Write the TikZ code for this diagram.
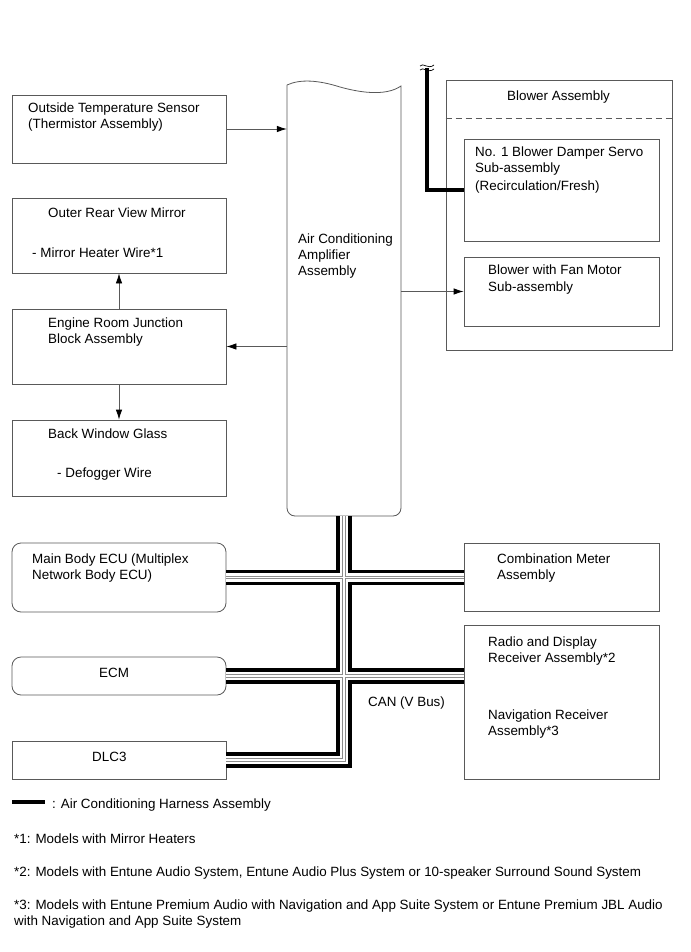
\documentclass[tikz,border=0pt]{standalone}
\usepackage{fontspec}
\setmainfont{Liberation Sans}
\usetikzlibrary{arrows.meta}
\definecolor{ln}{gray}{0.35}
\newcommand\mybus[1]{%
  \draw[#1] (amp.south) -- (bc) -- (dlc.east);
  \draw[#1] (mbe.east) -- (mbe.east -| cmb.west);
  \draw[#1] (ecm.east) -- (ecm.east -| rad.west);
}
\begin{document}
\begin{tikzpicture}[x=1pt,y=-1pt,
  box/.style={draw=ln, line width=0.8pt, inner sep=0pt, minimum width=214pt},
  rbox/.style={box, minimum width=195pt},
  txt/.style={anchor=base west, inner sep=0pt, font=\fontsize{13.4}{16}\selectfont},
  arr/.style={draw=ln, line width=0.8pt, -{Latex[length=10pt,width=6.5pt,color=black]}},
  harness/.style={line width=4pt, black, miter limit=10}
]
\useasboundingbox (0,0) rectangle (690,952);

% left column boxes
\node[box, minimum height=68pt] (ots) at (119,129) {};
\node[box, minimum height=75pt] (mir) at (119,235.5) {};
\node[box, minimum height=75pt] (erjb) at (119,346.5) {};
\node[box, minimum height=76pt] (bwg) at (119,458) {};
\node[box, rounded corners=9pt, minimum height=69pt] (mbe) at (119,577.5) {};
\node[box, rounded corners=9pt, minimum height=38pt] (ecm) at (119,676) {};
\node[box, minimum height=38pt] (dlc) at (119,760) {};

% right column boxes
\node[box, minimum width=226pt, minimum height=270pt] (blw) at (559,215) {};
\draw[ln, line width=0.8pt, dash pattern=on 6pt off 4pt] ([yshift=-39pt]blw.north west) coordinate (dl1) -- ([yshift=-39pt]blw.north east) coordinate (dl2);
\node[rbox, minimum height=102pt] (dmp) at (561.5,190) {};
\node[rbox, minimum height=69pt] (fan) at (561.5,291.5) {};
\node[rbox, minimum height=68pt] (cmb) at (561.5,577) {};
\node[rbox, minimum height=154pt] (rad) at (561.5,702) {};

% air conditioning amplifier
\node[inner sep=0pt, minimum width=114pt, minimum height=431pt] (amp) at (344,300.5) {};
\draw[ln, line width=0.8pt] (287,85) .. controls (300,79) and (318,80) .. (340,87)
  .. controls (358,92) and (385,97) .. (401,86) -- (401,500)
  [rounded corners=8pt] -- (401,516) -- (287,516) -- (287,500) [sharp corners] -- (287,85);

% arrows
\draw[arr] (ots.east) -- (ots.east -| amp.west);
\draw[arr] (erjb.north) -- (mir.south);
\draw[arr] (erjb.south) -- (bwg.north);
\draw[arr] (amp.west |- erjb.east) -- (erjb.east);
\draw[arr] (amp.east |- fan.west) -- (fan.west);

% harness to damper servo
\coordinate (brk) at (427,68);
\draw[harness] (brk) |- (dmp.west);
\draw[black, line width=0.7pt] (420,66) .. controls (423,62) and (428,70) .. (434,65);
\draw[black, line width=0.7pt] (420,70) .. controls (423,66) and (428,74) .. (434,69);

% CAN bus
\coordinate (bc) at (amp.south |- dlc.east);
\mybus{line width=15.4pt, black, line cap=butt, line join=miter}
\mybus{line width=8.6pt, white, line cap=butt, line join=miter}
\mybus{line width=3.4pt, black!45, line cap=butt, line join=miter}
\mybus{line width=1.6pt, white, line cap=butt, line join=miter}

% texts
\node[txt] (t1) at (28,113) {Outside Temperature Sensor};
\node[txt] (t2) at (28,129) {(Thermistor Assembly)};
\node[txt] (t3) at (48,217) {Outer Rear View Mirror};
\node[txt] (t4) at (32,257) {- Mirror Heater Wire*1};
\node[txt] (t5) at (48,327) {Engine Room Junction};
\node[txt] (t6) at (48,343) {Block Assembly};
\node[txt] (t7) at (48,438) {Back Window Glass};
\node[txt] (t8) at (57,477) {- Defogger Wire};
\node[txt] (t9) at (298,243) {Air Conditioning};
\node[txt] (t10) at (298,259) {Amplifier};
\node[txt] (t11) at (298,275) {Assembly};
\node[txt] (t12) at (507,101) {Blower Assembly};
\node[txt] (t13) at (475,157) {No. 1 Blower Damper Servo};
\node[txt] (t14) at (475,173) {Sub-assembly};
\node[txt] (t15) at (475,190) {(Recirculation/Fresh)};
\node[txt] (t16) at (488,274) {Blower with Fan Motor};
\node[txt] (t17) at (488,291) {Sub-assembly};
\node[txt] (t18) at (32,563) {Main Body ECU (Multiplex};
\node[txt] (t19) at (32,579) {Network Body ECU)};
\node[txt] (t20) at (99,677) {ECM};
\node[txt] (t21) at (92,761) {DLC3};
\node[txt] (t22) at (497,563) {Combination Meter};
\node[txt] (t23) at (497,579) {Assembly};
\node[txt] (t24) at (488,646) {Radio and Display};
\node[txt] (t25) at (488,662) {Receiver Assembly*2};
\node[txt] (t26) at (488,719) {Navigation Receiver};
\node[txt] (t27) at (488,735) {Assembly*3};
\node[txt] (t28) at (368,706) {CAN (V Bus)};

% legend and notes
\coordinate (lg1) at (12,802);
\coordinate (lg2) at (45,802);
\draw[harness] (lg1) -- (lg2);
\node[txt] (t29) at (52,808) {: Air Conditioning Harness Assembly};
\node[txt] (t30) at (14,843) {*1: Models with Mirror Heaters};
\node[txt] (t31) at (14,876) {*2: Models with Entune Audio System, Entune Audio Plus System or 10-speaker Surround Sound System};
\node[txt] (t32) at (14,909) {*3: Models with Entune Premium Audio with Navigation and App Suite System or Entune Premium JBL Audio};
\node[txt] (t33) at (14,925) {with Navigation and App Suite System};
\end{tikzpicture}
\end{document}
